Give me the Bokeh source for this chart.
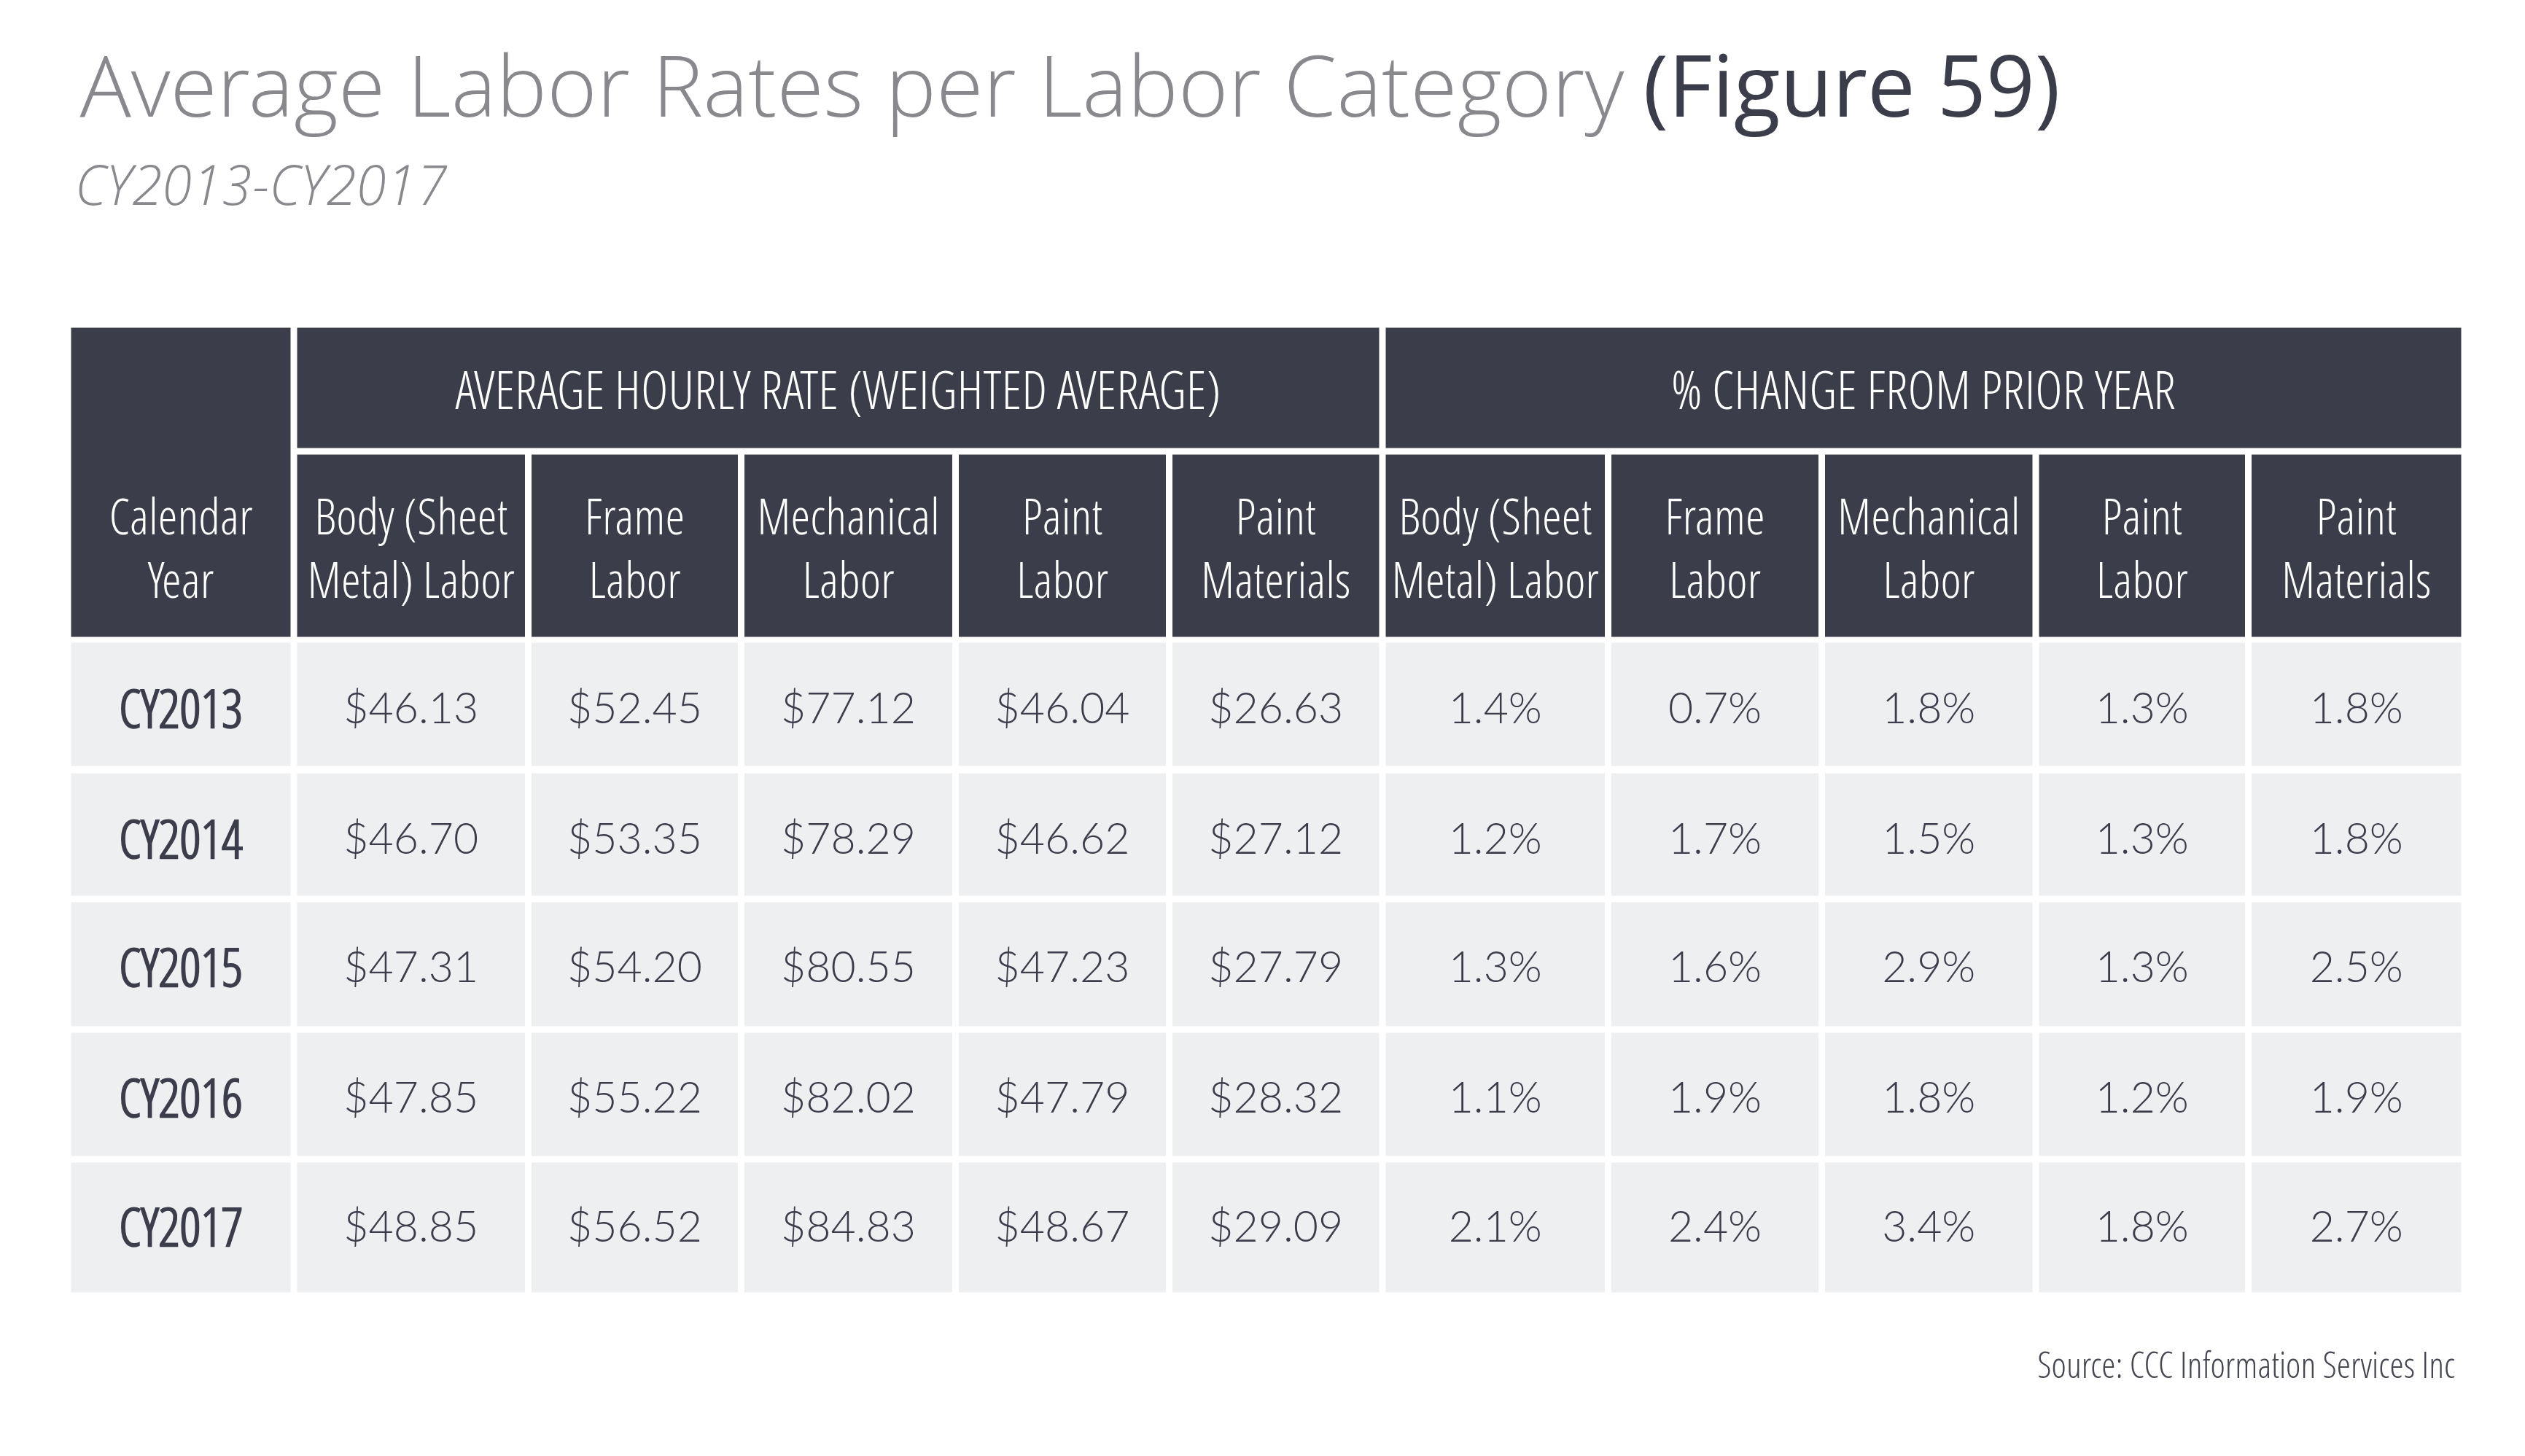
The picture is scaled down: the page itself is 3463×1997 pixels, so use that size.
from bokeh.plotting import figure
from bokeh.models import Range1d
from bokeh.core.properties import value
from bokeh.embed import file_html
from bokeh.resources import INLINE

# ---------------- data ----------------
title_main = "Average Labor Rates per Labor Category"
title_fig = "(Figure 59)"
subtitle = "CY2013-CY2017"
source_note = "Source:  CCC Information Services Inc"

group_labels = ["AVERAGE HOURLY RATE (WEIGHTED AVERAGE)", "% CHANGE FROM PRIOR YEAR"]
first_col_label = "Calendar\nYear"
categories = ["Body (Sheet\nMetal) Labor", "Frame\nLabor", "Mechanical\nLabor", "Paint\nLabor", "Paint\nMaterials"]
years = ["CY2013", "CY2014", "CY2015", "CY2016", "CY2017"]

body_rate = [46.13, 46.70, 47.31, 47.85, 48.85]
frame_rate = [52.45, 53.35, 54.20, 55.22, 56.52]
mech_rate = [77.12, 78.29, 80.55, 82.02, 84.83]
paint_rate = [46.04, 46.62, 47.23, 47.79, 48.67]
mat_rate = [26.63, 27.12, 27.79, 28.32, 29.09]

body_chg = [1.4, 1.2, 1.3, 1.1, 2.1]
frame_chg = [0.7, 1.7, 1.6, 1.9, 2.4]
mech_chg = [1.8, 1.5, 2.9, 1.8, 3.4]
paint_chg = [1.3, 1.3, 1.3, 1.2, 1.8]
mat_chg = [1.8, 1.8, 2.5, 1.9, 2.7]

rates = [body_rate, frame_rate, mech_rate, paint_rate, mat_rate]
changes = [body_chg, frame_chg, mech_chg, paint_chg, mat_chg]

# ---------------- layout (page pixel coordinates) ----------------
W, H = 3463, 1997
PW, PH = W - 16, H - 16
col_bounds = [92.5, 402.5, 724, 1016, 1310, 1603, 1895.5, 2205, 2498, 2791.5, 3083, 3379.5]
GAP = 9
hdr1 = (449, 614)
hdr2 = (623, 873)
row_tops = [881, 1060, 1237, 1416, 1594]
row_bots = [1050, 1228, 1407, 1585, 1772]
row_text_y = [969, 1148, 1324, 1503, 1680]

DARK = "#3b3e4a"
LIGHT = "#eeeff1"
GRAY = "#88888d"

FONT_NUM = "Lato Light, Lato"
FONT_TITLE = "Open Sans Light, Open Sans"
FONT_HEAD = "Open Sans Condensed Light, DejaVu Sans Condensed"

p = figure(width=PW, height=PH, x_range=Range1d(0, PW), y_range=Range1d(PH, 0),
           x_axis_type=None, y_axis_type=None, toolbar_location=None,
           output_backend="svg", min_border=0, outline_line_color=None,
           background_fill_color="white", border_fill_color="white")
p.grid.visible = False

def cell(i):
    return col_bounds[i] + GAP / 2, col_bounds[i + 1] - GAP / 2

# header cells
L, R, T, B = [], [], [], []
l, r = cell(0)
L.append(l); R.append(r); T.append(hdr1[0]); B.append(hdr2[1])
for g in range(2):
    l = col_bounds[1 + 5 * g] + GAP / 2
    r = col_bounds[6 + 5 * g] - GAP / 2
    L.append(l); R.append(r); T.append(hdr1[0]); B.append(hdr1[1])
for i in range(1, 11):
    l, r = cell(i)
    L.append(l); R.append(r); T.append(hdr2[0]); B.append(hdr2[1])
p.quad(left=L, right=R, top=T, bottom=B, fill_color=DARK, line_color=None)

# data cells
L, R, T, B = [], [], [], []
for j in range(len(years)):
    for i in range(11):
        l, r = cell(i)
        L.append(l); R.append(r); T.append(row_tops[j]); B.append(row_bots[j])
p.quad(left=L, right=R, top=T, bottom=B, fill_color=LIGHT, line_color=None)

# group headers
gx = [(col_bounds[1] + col_bounds[6]) / 2, (col_bounds[6] + col_bounds[11]) / 2]
p.text(x=gx, y=[532, 532], text=group_labels, text_align="center", text_baseline="middle",
       text_color="white", text_font=value(FONT_HEAD), text_font_size="72px")

# column headers (two lines)
hx = [(col_bounds[i] + col_bounds[i + 1]) / 2 for i in range(11)]
labels = [first_col_label] + categories + categories
line1 = [s.split("\n")[0] for s in labels]
line2 = [s.split("\n")[1] for s in labels]
p.text(x=hx, y=[706] * 11, text=line1, text_align="center", text_baseline="middle",
       text_color="white", text_font=value(FONT_HEAD), text_font_size="68px")
p.text(x=hx, y=[793] * 11, text=line2, text_align="center", text_baseline="middle",
       text_color="white", text_font=value(FONT_HEAD), text_font_size="68px")

# year labels
p.text(x=[hx[0]] * len(years), y=row_text_y, text=years, text_align="center", text_baseline="middle",
       text_color=DARK, text_font=value(FONT_HEAD), text_font_size="72px", text_font_style="bold")

# values
xs, ys, ts = [], [], []
for k in range(5):
    for j in range(len(years)):
        xs.append(hx[1 + k]); ys.append(row_text_y[j]); ts.append("${:.2f}".format(rates[k][j]))
        xs.append(hx[6 + k]); ys.append(row_text_y[j]); ts.append("{:.1f}%".format(changes[k][j]))
p.text(x=xs, y=ys, text=ts, text_align="center", text_baseline="middle",
       text_color=DARK, text_font=value(FONT_NUM), text_font_size="59px")

# title / subtitle / source
p.text(x=[109], y=[114], text=[title_main], text_align="left", text_baseline="middle",
       text_color=GRAY, text_font=value(FONT_TITLE), text_font_size="117px")
p.text(x=[2253], y=[114], text=[title_fig], text_align="left", text_baseline="middle",
       text_color=DARK, text_font=value("Open Sans"), text_font_size="117px")
p.text(x=[102], y=[251], text=[subtitle], text_align="left", text_baseline="middle",
       text_color=GRAY, text_font=value(FONT_TITLE), text_font_size="75px", text_font_style="italic")
p.text(x=[3376], y=[1870], text=[source_note], text_align="right", text_baseline="middle",
       text_color="#444650", text_font=value(FONT_HEAD), text_font_size="49px")

open("out.html", "w").write(file_html(p, INLINE))
